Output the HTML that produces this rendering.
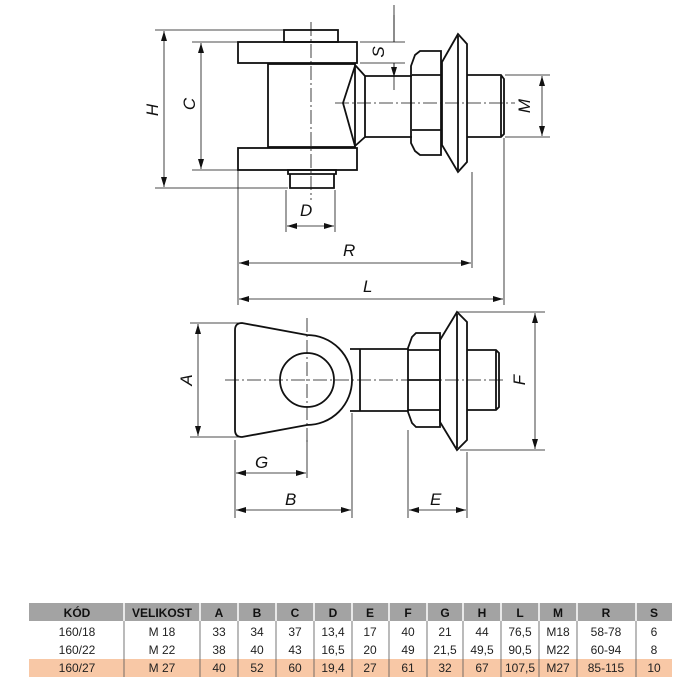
<!DOCTYPE html>
<html><head><meta charset="utf-8"><style>
html,body{margin:0;padding:0;background:#fff;}
svg{display:block;}
text{font-family:"Liberation Sans",sans-serif;}
</style></head><body>
<svg width="700" height="700" viewBox="0 0 700 700" xmlns="http://www.w3.org/2000/svg">
<defs>
<marker id="a" viewBox="0 0 10 6" refX="10" refY="3" markerWidth="10" markerHeight="6" orient="auto-start-reverse" markerUnits="userSpaceOnUse"><path d="M0,0 L10,3 L0,6z" fill="#111"/></marker>
</defs>
<g stroke="#111" fill="none" stroke-width="1.8">
<!-- TOP VIEW -->
<rect x="284" y="30" width="54" height="12"/>
<rect x="238" y="42" width="119" height="21"/>
<rect x="268" y="64" width="87" height="83"/>
<rect x="238" y="148" width="119" height="22"/>
<path d="M288,170 h48 v4 h-48z M290,174 v14 h44 v-14"/>
<path d="M355,65 L365,76 L365,137 L355,146 M355,66 L343,103 L355,146"/>
<path d="M365,76 H412 M365,137 H412"/>
<path d="M415,55 L420,51 H441 V155 H420 L415,151 L411,143 V66 Z M412,75 H441 M412,130 H441"/>
<path d="M458,34 L442,62 V145 L458,172 L467,162 V44 Z M458,36 V170"/>
<path d="M467,75 H501 L504,79 V134 L501,137 H467 M501,76 V136"/>
<!-- BOTTOM VIEW -->
<path d="M242,323 L307,335 A45,45 0 0 1 307,425 L242,437 Q235,437 235,430 V330 Q235,323 242,323 Z"/>
<circle cx="307" cy="380" r="27"/>
<path d="M350,349 H408 M350,411 H408 M360,349 V411"/>
<path d="M412,337 L416,333 H440 V427 H416 L412,423 L408,412 V348 Z M408,350 H440 M408,380 H440 M408,410 H440"/>
<path d="M457,312 L440,340 V422 L457,450 L467,440 V322 Z M457,314 V448"/>
<path d="M467,350 H496 L499,353 V407 L496,410 H467 M496,351 V409"/>
</g>
<!-- center lines -->
<g stroke="#111" stroke-width="0.8" fill="none" stroke-dasharray="14,3,2,3">
<path d="M311,22 V200 M335,103 H515 M225,380 H505 M307,318 V442"/>
</g>
<!-- dimension lines -->
<g stroke="#111" stroke-width="0.8" fill="none">
<path d="M155,30 H284 M155,188 H288 M192,42 H238 M192,170 H238"/>
<path d="M360,42 H405 M360,63 H405 M394,5 V42 M394,63 V90"/>
<path d="M505,75 H550 M505,137 H550"/>
<path d="M286,190 V232 M335,190 V232"/>
<path d="M238,170 V305 M472,172 V268 M504,138 V305"/>
<path d="M190,323 H240 M190,437 H240 M458,312 H545 M460,450 H545"/>
<path d="M235,440 V518 M307,440 V478 M352,413 V518 M408,430 V518 M467,452 V518"/>
</g>
<g stroke="#111" stroke-width="0.8" fill="none" marker-start="url(#a)" marker-end="url(#a)">
<path d="M164,31 V187"/><path d="M201,43 V169"/><path d="M542,76 V136"/>
<path d="M287,226 H334"/><path d="M239,263 H471"/><path d="M239,299 H503"/>
<path d="M198,324 V436"/><path d="M535,313 V449"/>
<path d="M236,473 H306"/><path d="M236,510 H351"/><path d="M409,510 H466"/>
</g>
<path d="M394,15 V42 M394,63 V77" stroke="#111" stroke-width="0.8" marker-end="url(#a)" fill="none"/>
<g font-size="17" fill="#111" font-style="italic">
<text x="300" y="216">D</text><text x="343" y="256">R</text><text x="363" y="292">L</text>
<text x="255" y="468">G</text><text x="285" y="505">B</text><text x="430" y="505">E</text>
<text transform="translate(158,110) rotate(-90)" text-anchor="middle">H</text>
<text transform="translate(195,104) rotate(-90)" text-anchor="middle">C</text>
<text transform="translate(384,52) rotate(-90)" text-anchor="middle">S</text>
<text transform="translate(530,106) rotate(-90)" text-anchor="middle">M</text>
<text transform="translate(192,380) rotate(-90)" text-anchor="middle">A</text>
<text transform="translate(525,380) rotate(-90)" text-anchor="middle">F</text>
</g>
<!-- TABLE -->
<rect x="29" y="603" width="643" height="18" fill="#a3a3a3"/>
<rect x="29" y="659" width="643" height="18" fill="#f8c8a6"/>
<g stroke="#fff" stroke-width="1.5">
<path d="M124,603V621 M200,603V621 M238,603V621 M276,603V621 M314,603V621 M352,603V621 M389,603V621 M427,603V621 M463,603V621 M501,603V621 M539,603V621 M577,603V621 M636,603V621"/>
</g>
<g stroke="#555" stroke-width="0.8">
<path d="M124,621V677 M200,621V677 M238,621V677 M276,621V677 M314,621V677 M352,621V677 M389,621V677 M427,621V677 M463,621V677 M501,621V677 M539,621V677 M577,621V677 M636,621V677"/>
</g>
<g font-size="12" fill="#222" text-anchor="middle">
<g font-weight="bold" fill="#111">
<text x="77" y="617">KÓD</text><text x="162" y="617">VELIKOST</text><text x="219" y="617">A</text><text x="257" y="617">B</text><text x="295" y="617">C</text><text x="333" y="617">D</text><text x="370" y="617">E</text><text x="408" y="617">F</text><text x="445" y="617">G</text><text x="482" y="617">H</text><text x="520" y="617">L</text><text x="558" y="617">M</text><text x="606" y="617">R</text><text x="654" y="617">S</text>
</g>
<text x="77" y="636">160/18</text><text x="162" y="636">M 18</text><text x="219" y="636">33</text><text x="257" y="636">34</text><text x="295" y="636">37</text><text x="333" y="636">13,4</text><text x="370" y="636">17</text><text x="408" y="636">40</text><text x="445" y="636">21</text><text x="482" y="636">44</text><text x="520" y="636">76,5</text><text x="558" y="636">M18</text><text x="606" y="636">58-78</text><text x="654" y="636">6</text>
<text x="77" y="654">160/22</text><text x="162" y="654">M 22</text><text x="219" y="654">38</text><text x="257" y="654">40</text><text x="295" y="654">43</text><text x="333" y="654">16,5</text><text x="370" y="654">20</text><text x="408" y="654">49</text><text x="445" y="654">21,5</text><text x="482" y="654">49,5</text><text x="520" y="654">90,5</text><text x="558" y="654">M22</text><text x="606" y="654">60-94</text><text x="654" y="654">8</text>
<text x="77" y="672">160/27</text><text x="162" y="672">M 27</text><text x="219" y="672">40</text><text x="257" y="672">52</text><text x="295" y="672">60</text><text x="333" y="672">19,4</text><text x="370" y="672">27</text><text x="408" y="672">61</text><text x="445" y="672">32</text><text x="482" y="672">67</text><text x="520" y="672">107,5</text><text x="558" y="672">M27</text><text x="606" y="672">85-115</text><text x="654" y="672">10</text>
</g>
</svg>
</body></html>
